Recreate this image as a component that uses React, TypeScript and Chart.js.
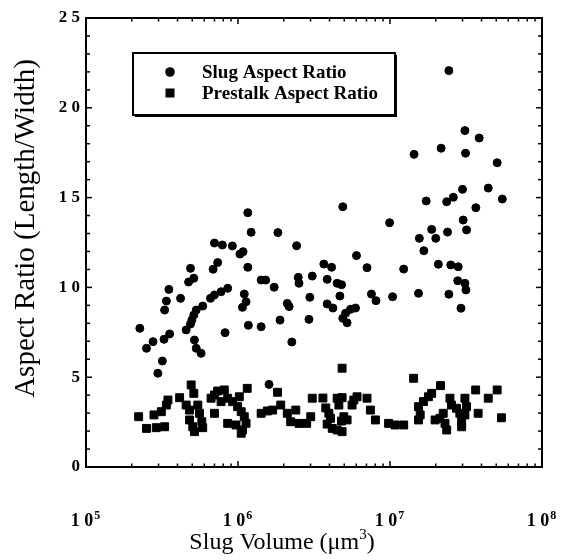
import React, { useEffect, useRef } from "react";
import { Chart, registerables } from "chart.js";

Chart.register(...registerables);

// ---- Data ----
const seriesLabels = ["Slug Aspect Ratio", "Prestalk Aspect Ratio"];

const slugVolume = [
  2.26e5, 2.5e5, 2.76e5, 2.97e5, 3.18e5, 3.26e5, 3.55e5, 3.29e5, 3.38e5, 3.51e5,
  4.19e5, 4.56e5, 4.87e5, 4.97e5, 5.12e5, 5.31e5, 5.86e5, 6.59e5, 7.0e5, 7.74e5,
  8.55e5, 4.73e5, 5.12e5, 4.87e5, 6.86e5, 7.35e5, 7.0e5, 7.89e5, 9.18e5, 1.03e6,
  1.08e6, 5.17e5, 5.31e5, 5.72e5, 8.22e5, 1.16e6, 1.22e6, 1.83e6, 2.43e6, 1.16e6,
  1.1e6, 1.13e6, 1.07e6, 1.17e6, 1.42e6, 1.42e6, 1.52e6, 1.73e6, 1.89e6, 2.26e6,
  2.11e6, 2.17e6, 2.49e6, 2.52e6, 2.97e6, 3.08e6, 2.93e6, 1.6e6, 3.67e6, 4.13e6,
  3.86e6, 4.49e6, 4.8e6, 4.68e6, 3.86e6, 4.21e6, 5.93e6, 5.5e6, 5.1e6, 4.89e6,
  5.22e6, 4.89e6, 6.02e6, 7.06e6, 7.55e6, 8.09e6, 1.04e7, 9.94e6, 1.23e7, 1.54e7,
  1.44e7, 1.56e7, 1.67e7, 1.73e7, 1.88e7, 2.0e7, 2.39e7, 2.08e7, 2.51e7, 2.81e7,
  2.79e7, 3.11e7, 3.16e7, 2.44e7, 2.93e7, 2.44e7, 3.11e7, 3.86e7, 2.17e7, 3.14e7,
  5.07e7, 4.43e7, 5.48e7, 3.0e7, 2.61e7, 2.36e7, 3.67e7, 3.03e7, 3.19e7,
];
const slugRatio = [
  7.72, 6.61, 6.98, 5.22, 5.9, 7.11, 7.41, 8.74, 9.24, 9.89,
  9.39, 7.63, 7.96, 8.18, 8.46, 8.74, 8.96, 9.39, 9.58, 9.76,
  9.95, 10.3, 10.51, 11.06, 11.01, 11.38, 12.47, 12.36, 12.31, 11.86,
  11.99, 7.07, 6.61, 6.33, 7.48, 14.16, 13.07, 13.05, 12.32, 11.12,
  9.63, 9.2, 8.89, 7.89, 7.81, 10.41, 10.41, 10.01, 8.18, 6.96,
  9.11, 8.93, 10.56, 10.23, 9.45, 10.63, 8.22, 4.6, 11.3, 11.12,
  10.45, 10.23, 10.15, 9.52, 9.08, 8.85, 8.85, 8.78, 8.56, 8.28,
  8.03, 14.49, 11.77, 11.1, 9.63, 9.26, 9.48, 13.6, 11.02, 9.67,
  17.41, 12.73, 12.04, 14.81, 13.23, 12.73, 13.08, 11.29, 11.25, 11.15,
  10.37, 10.23, 9.86, 9.62, 8.84, 22.07, 18.73, 18.32, 17.75, 17.47,
  16.94, 15.53, 14.92, 15.46, 15.02, 14.77, 14.44, 13.75, 13.2,
];

const prestalkVolume = [
  2.22e5, 2.5e5, 2.8e5, 2.9e5, 3.29e5, 3.13e5, 3.38e5, 3.46e5, 4.13e5, 4.92e5,
  5.12e5, 4.56e5, 4.8e5, 4.8e5, 5.04e5, 5.17e5, 5.44e5, 5.58e5, 5.78e5, 5.86e5,
  6.65e5, 7.0e5, 7.35e5, 8.13e5, 7.0e5, 7.74e5, 8.55e5, 9.22e5, 1.02e6, 8.55e5,
  9.94e5, 1.05e6, 1.1e6, 1.13e6, 1.07e6, 1.05e6, 1.15e6, 9.7e5, 1.42e6, 1.56e6,
  1.69e6, 1.82e6, 1.91e6, 2.11e6, 2.22e6, 2.4e6, 2.52e6, 2.83e6, 3.08e6, 3.01e6,
  3.62e6, 3.78e6, 3.86e6, 4.84e6, 3.96e6, 4.06e6, 4.17e6, 4.49e6, 4.84e6, 4.49e6,
  4.84e6, 4.61e6, 4.97e6, 5.22e6, 5.78e6, 6.07e6, 5.63e6, 7.06e6, 7.43e6, 8.02e6,
  9.79e6, 1.08e7, 1.23e7, 1.43e7, 1.54e7, 1.58e7, 1.54e7, 1.66e7, 1.79e7, 1.88e7,
  2.15e7, 1.98e7, 2.13e7, 2.24e7, 2.3e7, 2.36e7, 2.48e7, 2.54e7, 2.74e7, 2.88e7,
  2.96e7, 2.96e7, 3.11e7, 3.19e7, 3.11e7, 3.66e7, 3.8e7, 4.43e7, 5.07e7, 5.41e7,
  4.8e6,
];
const prestalkRatio = [
  2.8, 2.15, 2.9, 2.19, 2.24, 3.08, 3.45, 3.73, 3.86, 4.57,
  4.1, 3.45, 3.17, 2.62, 2.24, 1.97, 3.45, 2.99, 2.52, 2.19,
  3.83, 4.01, 4.23, 4.29, 2.99, 3.64, 3.83, 3.64, 3.91, 2.43,
  3.36, 3.08, 2.8, 2.43, 2.06, 1.88, 4.38, 2.34, 2.99, 3.12,
  3.17, 4.16, 3.45, 2.99, 2.52, 3.17, 2.43, 2.43, 3.83, 2.8,
  3.84, 3.29, 2.39, 5.5, 2.99, 2.71, 2.15, 2.06, 1.97, 3.83,
  3.86, 3.45, 2.8, 2.62, 3.73, 3.91, 3.45, 3.83, 3.17, 2.62,
  2.43, 2.34, 2.34, 4.94, 3.36, 2.9, 2.62, 3.64, 3.91, 4.1,
  4.53, 2.62, 2.71, 2.99, 2.43, 2.06, 3.83, 3.45, 3.27, 2.99,
  2.52, 2.24, 3.83, 3.36, 2.9, 4.29, 2.99, 3.83, 4.29, 2.74,
  2.56,
];

const xTickValues = [1e5, 1e6, 1e7, 1e8];
const xTickBase = ["1 0", "1 0", "1 0", "1 0"];
const xTickExponent = ["5", "6", "7", "8"];
const yTickValues = [0, 5, 10, 15, 20, 25];
const yTickLabels = ["0", "5", "1 0", "1 5", "2 0", "2 5"];
const xTitleMain = "Slug Volume (\u03bcm";
const xTitleSup = "3";
const xTitleEnd = ")";
const yTitle = "Aspect Ratio (Length/Width)";

const SERIF = "'Liberation Serif', 'DejaVu Serif', serif";

// ---- Plugins ----
const framePlugin = {
  id: "frame",
  afterDatasetsDraw(chart: any) {
    const { ctx, chartArea } = chart;
    const { left, right, top, bottom } = chartArea;
    const x = chart.scales.x;
    const y = chart.scales.y;
    ctx.save();
    ctx.strokeStyle = "#000";
    ctx.lineWidth = 2;
    ctx.strokeRect(left, top, right - left, bottom - top);
    ctx.lineWidth = 1.5;
    const seg = (x1: number, y1: number, x2: number, y2: number) => {
      ctx.beginPath();
      ctx.moveTo(x1, y1);
      ctx.lineTo(x2, y2);
      ctx.stroke();
    };
    for (let v = y.min; v <= y.max; v++) {
      const py = y.getPixelForValue(v);
      const len = v % 5 === 0 ? 6 : 4;
      seg(left, py, left + len, py);
      seg(right, py, right - len, py);
    }
    const minExp = Math.round(Math.log10(x.min));
    const maxExp = Math.round(Math.log10(x.max));
    for (let e = minExp; e <= maxExp; e++) {
      for (let m = 1; m <= 9; m++) {
        const v = m * Math.pow(10, e);
        if (v > x.max * 1.0001) break;
        const px = x.getPixelForValue(v);
        const len = m === 1 ? 6 : 3.5;
        seg(px, bottom, px, bottom - len);
        seg(px, top, px, top + len);
      }
    }
    ctx.restore();
  },
};

const textPlugin = {
  id: "axisText",
  afterDraw(chart: any) {
    const { ctx, chartArea } = chart;
    const x = chart.scales.x;
    ctx.save();
    ctx.fillStyle = "#000";
    ctx.textBaseline = "alphabetic";
    ctx.textAlign = "left";
    // x tick labels with superscript exponent
    xTickValues.forEach((v, i) => {
      const px = x.getPixelForValue(v);
      ctx.font = `bold 18px ${SERIF}`;
      const wb = ctx.measureText(xTickBase[i]).width;
      ctx.font = `bold 12px ${SERIF}`;
      const we = ctx.measureText(xTickExponent[i]).width;
      const sx = px - (wb + we) / 2 - 1;
      ctx.font = `bold 18px ${SERIF}`;
      ctx.fillText(xTickBase[i], sx, chartArea.bottom + 59);
      ctx.font = `bold 12px ${SERIF}`;
      ctx.fillText(xTickExponent[i], sx + wb + 1, chartArea.bottom + 52);
    });
    // x title with superscript
    ctx.font = `24px ${SERIF}`;
    const w1 = ctx.measureText(xTitleMain).width;
    const w3 = ctx.measureText(xTitleEnd).width;
    ctx.font = `15px ${SERIF}`;
    const w2 = ctx.measureText(xTitleSup).width;
    const total = w1 + w2 + w3;
    const cx = (chartArea.left + chartArea.right) / 2 - 32;
    const bx = cx - total / 2;
    const by = chartArea.bottom + 82;
    ctx.font = `24px ${SERIF}`;
    ctx.fillText(xTitleMain, bx, by);
    ctx.font = `15px ${SERIF}`;
    ctx.fillText(xTitleSup, bx + w1, by - 10);
    ctx.font = `24px ${SERIF}`;
    ctx.fillText(xTitleEnd, bx + w1 + w2, by);
    // y title
    ctx.save();
    ctx.translate(34, (chartArea.top + chartArea.bottom) / 2 - 14);
    ctx.rotate(-Math.PI / 2);
    ctx.textAlign = "center";
    ctx.font = `29px ${SERIF}`;
    ctx.fillText(yTitle, 0, 0);
    ctx.restore();
    ctx.restore();
  },
};

const legendBoxPlugin = {
  id: "legendBox",
  afterDraw(chart: any) {
    const { ctx } = chart;
    const bx = 133, by = 53, bw = 262, bh = 62;
    ctx.save();
    ctx.fillStyle = "#000";
    ctx.fillRect(bx + 2, by + bh, bw, 2);
    ctx.fillRect(bx + bw, by + 2, 2, bh);
    ctx.strokeStyle = "#000";
    ctx.lineWidth = 2;
    ctx.strokeRect(bx, by, bw, bh);
    ctx.font = `bold 19px ${SERIF}`;
    ctx.textBaseline = "middle";
    ctx.textAlign = "left";
    chart.data.datasets.forEach((ds: any, i: number) => {
      const cy = by + 19 + i * 21;
      const cx = bx + 37;
      ctx.fillStyle = "#000";
      if (ds.pointStyle === "rect") {
        ctx.fillRect(cx - 4.5, cy - 4.5, 9, 9);
      } else {
        ctx.beginPath();
        ctx.arc(cx, cy, 4.8, 0, Math.PI * 2);
        ctx.fill();
      }
      ctx.fillText(ds.label, bx + 69, cy + 1);
    });
    ctx.restore();
  },
};

export default function App() {
  const canvasRef = useRef<HTMLCanvasElement | null>(null);

  useEffect(() => {
    if (!canvasRef.current) return;
    const slugData = slugVolume.map((v, i) => ({ x: v, y: slugRatio[i] }));
    const prestalkData = prestalkVolume.map((v, i) => ({ x: v, y: prestalkRatio[i] }));

    const chart = new Chart(canvasRef.current, {
      type: "scatter",
      data: {
        datasets: [
          {
            label: seriesLabels[0],
            data: slugData,
            pointStyle: "circle",
            pointRadius: 4,
            pointBorderWidth: 1,
            backgroundColor: "#000",
            borderColor: "#000",
          },
          {
            label: seriesLabels[1],
            data: prestalkData,
            pointStyle: "rect",
            pointRadius: 5.6,
            pointBorderWidth: 1,
            backgroundColor: "#000",
            borderColor: "#000",
          },
        ],
      },
      options: {
        animation: false,
        responsive: true,
        maintainAspectRatio: false,
        layout: { padding: { top: 18, right: 25, left: 0, bottom: 0 } },
        plugins: {
          legend: { display: false },
          tooltip: { enabled: false },
        },
        scales: {
          x: {
            type: "logarithmic",
            min: 1e5,
            max: 1e8,
            grid: { display: false, drawTicks: false },
            border: { display: false },
            afterBuildTicks: (s: any) => {
              s.ticks = xTickValues.map((v) => ({ value: v }));
            },
            afterFit: (s: any) => {
              s.height = 93;
            },
            ticks: { display: false },
            title: { display: false },
          },
          y: {
            type: "linear",
            min: 0,
            max: 25,
            grid: { display: false, drawTicks: false },
            border: { display: false },
            afterBuildTicks: (s: any) => {
              s.ticks = yTickValues.map((v) => ({ value: v }));
            },
            afterFit: (s: any) => {
              s.width = 86;
            },
            ticks: {
              autoSkip: false,
              padding: 6,
              color: "#000",
              font: { family: SERIF, size: 17, weight: "bold" },
              callback: (value: any) => {
                const idx = yTickValues.indexOf(Number(value));
                return idx >= 0 ? yTickLabels[idx] : "";
              },
            },
            title: { display: false },
          },
        },
      },
      plugins: [framePlugin, textPlugin, legendBoxPlugin],
    } as any);

    return () => chart.destroy();
  }, []);

  return (
    <div
      style={{
        position: "absolute",
        left: 0,
        top: 0,
        width: 567,
        height: 560,
        background: "#fff",
      }}
    >
      <canvas ref={canvasRef} />
    </div>
  );
}
